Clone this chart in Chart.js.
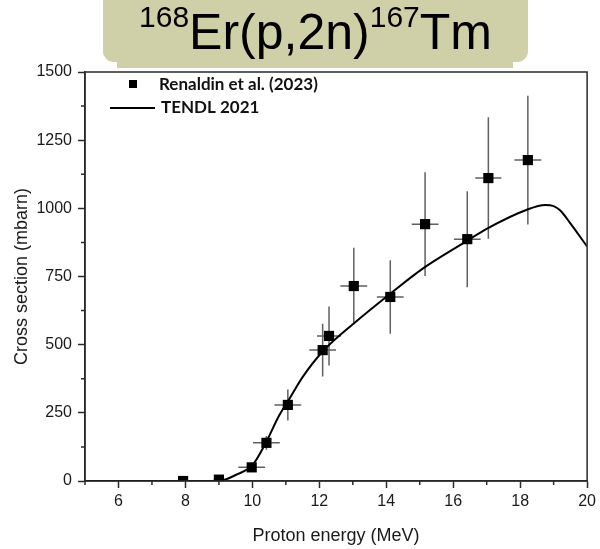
<!DOCTYPE html>
<html>
<head>
<meta charset="utf-8">
<script src="https://cdn.jsdelivr.net/npm/chart.js@4.4.1/dist/chart.umd.min.js"></script>
<style>
  html, body { margin: 0; padding: 0; background: #ffffff; }
  #wrap { position: relative; width: 600px; height: 549px; overflow: hidden; }
  #c { position: absolute; left: 0; top: 0; }
  .box1 { position: absolute; left: 117px; top: 0; width: 396px; height: 68px; background: #cfd0a8; }
  .box2 { position: absolute; left: 103px; top: 0; width: 425px; height: 62px; background: #cfd0a8; border-radius: 0 0 11px 11px; }
  #title { position: absolute; left: 103px; top: 0; width: 425px; height: 62px; text-align: center;
           font-family: "Liberation Sans", Arial, sans-serif; font-size: 50px; line-height: 64px; color: #000; white-space: nowrap; }
  #title sup { font-size: 30px; position: relative; top: -3px; vertical-align: top; line-height: 40px; }
</style>
</head>
<body>
<div id="wrap">
  <canvas id="c" width="600" height="549"></canvas>
  <div class="box1"></div>
  <div class="box2"></div>
  <div id="title"><sup>168</sup>Er(p,2n)<sup>167</sup>Tm</div>
</div>
<script>
// ---- data ----
const expLabel = "Renaldin et al. (2023)";
const expEnergy = [7.93, 9.0, 9.98, 10.42, 11.06, 12.1, 12.29, 13.03, 14.12, 15.16, 16.42, 17.05, 18.23];
const expXs     = [0, 5, 50, 140, 279, 480, 532, 715, 675, 942, 887, 1111, 1177];
const expXsErr  = [0, 0, 14, 25, 57, 97, 108, 140, 135, 190, 176, 223, 236];
const expEErr   = [0, 0, 0.4, 0.4, 0.4, 0.4, 0.36, 0.4, 0.4, 0.4, 0.4, 0.39, 0.4];

const tendlLabel = "TENDL 2021";
const tendlEnergy = [5, 8.5, 9.0, 9.2, 9.5, 10.0, 10.4, 10.8, 11.1, 11.5, 12.1, 13.1, 14.1, 15.1, 16.4, 17.0, 18.2, 18.75, 19.0, 19.2, 19.5, 20];
const tendlXs     = [0, 0, 2, 6, 22, 58, 140, 240, 300, 381, 475, 585, 685, 780, 880, 925, 995, 1012, 1008, 992, 945, 860];

const xTickLabels = [6, 8, 10, 12, 14, 16, 18, 20];
const yTickLabels = [0, 250, 500, 750, 1000, 1250, 1500];

const axisColor = '#2a2a2a';
const sans = '"Liberation Sans", Arial, sans-serif';
const tickFont = { family: sans, size: 16 };
const titleFont = { family: sans, size: 18 };

const errorBars = {
  id: 'errorBars',
  beforeDatasetsDraw(chart) {
    const ctx = chart.ctx, xs = chart.scales.x, ys = chart.scales.y;
    ctx.save();
    ctx.strokeStyle = '#606060';
    ctx.lineWidth = 1.5;
    expEnergy.forEach((e, i) => {
      const v = expXs[i];
      const px = xs.getPixelForValue(e), py = ys.getPixelForValue(v);
      ctx.beginPath();
      if (expXsErr[i] > 0) {
        ctx.moveTo(px, ys.getPixelForValue(v - expXsErr[i]));
        ctx.lineTo(px, ys.getPixelForValue(v + expXsErr[i]));
      }
      if (expEErr[i] > 0) {
        ctx.moveTo(xs.getPixelForValue(e - expEErr[i]), py);
        ctx.lineTo(xs.getPixelForValue(e + expEErr[i]), py);
      }
      ctx.stroke();
    });
    ctx.restore();
  }
};

const frameAndLegend = {
  id: 'frameAndLegend',
  afterDraw(chart) {
    const ctx = chart.ctx, a = chart.chartArea, xs = chart.scales.x, ys = chart.scales.y;
    ctx.save();
    ctx.strokeStyle = axisColor;
    ctx.lineWidth = 1.5;
    ctx.strokeRect(a.left, a.top, a.right - a.left, a.bottom - a.top);
    // minor ticks (shorter)
    ctx.beginPath();
    xs.ticks.forEach(t => {
      if (!xTickLabels.includes(t.value)) {
        const p = xs.getPixelForValue(t.value);
        ctx.moveTo(p, a.bottom); ctx.lineTo(p, a.bottom + 4);
      }
    });
    ys.ticks.forEach(t => {
      if (!yTickLabels.includes(t.value)) {
        const p = ys.getPixelForValue(t.value);
        ctx.moveTo(a.left, p); ctx.lineTo(a.left - 4, p);
      }
    });
    ctx.stroke();
    // legend
    ctx.fillStyle = '#000';
    ctx.fillRect(129, 80, 8, 8);
    ctx.beginPath();
    ctx.lineWidth = 2;
    ctx.strokeStyle = '#000';
    ctx.moveTo(110, 108);
    ctx.lineTo(155, 108);
    ctx.stroke();
    ctx.font = 'bold 17px Lato, "Open Sans", sans-serif';
    ctx.textBaseline = 'middle';
    ctx.fillStyle = '#111';
    ctx.fillText(chart.data.datasets[0].label, 159, 85);
    ctx.fillText(chart.data.datasets[1].label, 161, 108);
    ctx.restore();
  }
};

const majorOnlyX = ctx => (ctx.tick && xTickLabels.includes(ctx.tick.value)) ? axisColor : 'rgba(0,0,0,0)';
const majorOnlyY = ctx => (ctx.tick && yTickLabels.includes(ctx.tick.value)) ? axisColor : 'rgba(0,0,0,0)';

new Chart(document.getElementById('c'), {
  type: 'scatter',
  data: {
    datasets: [
      {
        label: expLabel,
        data: expEnergy.map((e, i) => ({ x: e, y: expXs[i] })),
        pointStyle: 'rect',
        pointRadius: 7.2,
        pointHoverRadius: 7.2,
        backgroundColor: '#000',
        borderColor: '#000',
        borderWidth: 0,
        showLine: false,
        order: 0
      },
      {
        label: tendlLabel,
        data: tendlEnergy.map((e, i) => ({ x: e, y: tendlXs[i] })),
        showLine: true,
        pointRadius: 0,
        borderColor: '#000',
        borderWidth: 2,
        cubicInterpolationMode: 'monotone',
        fill: false,
        order: 1
      }
    ]
  },
  options: {
    responsive: false,
    animation: false,
    devicePixelRatio: 1,
    layout: { padding: { left: 0, right: 8, top: 72, bottom: 0 } },
    plugins: { legend: { display: false }, tooltip: { enabled: false } },
    scales: {
      x: {
        type: 'linear', min: 5, max: 20,
        afterFit(s) { s.height = 68; },
        ticks: {
          stepSize: 1, autoSkip: false, maxRotation: 0, padding: 4,
          color: '#1a1a1a', font: tickFont,
          callback: v => xTickLabels.includes(v) ? String(v) : ''
        },
        grid: { drawOnChartArea: false, drawTicks: true, tickLength: 7, tickColor: majorOnlyX, tickWidth: 1.5 },
        border: { display: true, color: axisColor, width: 1.5 },
        title: { display: true, text: 'Proton energy (MeV)', color: '#1a1a1a', font: titleFont, padding: { top: 0, bottom: 2 } }
      },
      y: {
        type: 'linear', min: 0, max: 1500,
        afterFit(s) { s.width = 85; },
        ticks: {
          stepSize: 125, autoSkip: false, padding: 6,
          color: '#1a1a1a', font: tickFont,
          callback: v => yTickLabels.includes(v) ? String(v) : ''
        },
        grid: { drawOnChartArea: false, drawTicks: true, tickLength: 7, tickColor: majorOnlyY, tickWidth: 1.5 },
        border: { display: true, color: axisColor, width: 1.5 },
        title: { display: true, text: 'Cross section (mbarn)', color: '#1a1a1a', font: titleFont, padding: { top: 11, bottom: 0 } }
      }
    }
  },
  plugins: [errorBars, frameAndLegend]
});
</script>
</body>
</html>
